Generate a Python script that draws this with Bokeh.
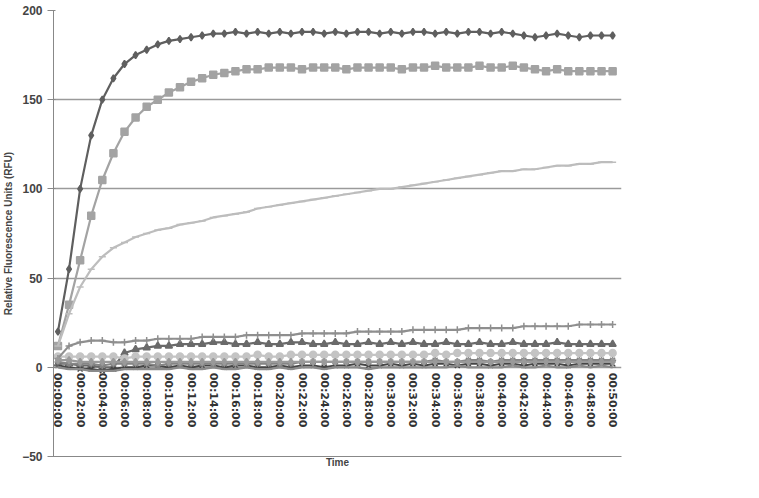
import numpy as np
from bokeh.plotting import figure
from bokeh.models import Legend, LegendItem, FixedTicker
from bokeh.core.properties import value
from bokeh.embed import file_html
from bokeh.resources import INLINE

minutes = list(range(51))
tick_minutes = list(range(0, 51, 2))
tick_labels = ["00:%02d:00" % m for m in tick_minutes]

s90 = [20, 55, 100, 130, 150, 162, 170, 175, 178, 181, 183, 184, 185, 186, 187, 187, 188, 187, 188, 187, 188, 187, 188, 188, 187, 188, 187, 188, 188, 187, 188, 187, 188, 188, 187, 188, 187, 188, 188, 187, 188, 187, 186, 185, 186, 187, 186, 185, 186, 186, 186]
s30 = [12, 35, 60, 85, 105, 120, 132, 140, 146, 150, 154, 157, 160, 162, 164, 165, 166, 167, 167, 168, 168, 168, 167, 168, 168, 168, 167, 168, 168, 168, 168, 167, 168, 168, 169, 168, 168, 168, 169, 168, 168, 169, 168, 167, 166, 167, 166, 166, 166, 166, 166]
s10 = [2, 2, 1, 1, 0, 0, 8, 10, 11, 12, 12, 13, 13, 13, 14, 14, 13, 13, 14, 13, 13, 14, 14, 13, 13, 14, 13, 13, 14, 13, 14, 13, 14, 13, 13, 14, 13, 13, 14, 13, 13, 14, 13, 13, 13, 14, 13, 13, 13, 13, 13]
s333 = [1, 0, -1, -1, -2, -1, 0, 0, 1, 1, 0, 1, 0, 1, 1, 0, 1, 1, 0, 0, 1, 0, 1, 1, 0, 1, 1, 2, 1, 1, 2, 1, 2, 1, 2, 2, 1, 2, 2, 1, 2, 2, 1, 2, 2, 2, 1, 2, 2, 2, 2]
s111 = [3, 2, 2, 2, 1, 2, 2, 2, 2, 1, 2, 2, 2, 2, 2, 2, 2, 2, 2, 2, 2, 2, 3, 3, 3, 3, 3, 3, 3, 3, 3, 3, 3, 3, 4, 3, 3, 4, 4, 3, 4, 4, 4, 4, 4, 4, 4, 4, 4, 4, 4]
s037 = [6, 6, 6, 6, 6, 6, 5, 6, 6, 6, 6, 6, 6, 6, 6, 6, 6, 6, 7, 6, 6, 7, 7, 7, 7, 7, 7, 7, 7, 7, 7, 7, 7, 7, 8, 7, 8, 8, 8, 8, 8, 8, 8, 8, 8, 8, 8, 8, 8, 8, 8]
s012 = [5, 12, 14, 15, 15, 14, 14, 15, 15, 16, 16, 16, 16, 17, 17, 17, 17, 18, 18, 18, 18, 18, 19, 19, 19, 19, 19, 20, 20, 20, 20, 20, 21, 21, 21, 21, 21, 22, 22, 22, 22, 22, 23, 23, 23, 23, 23, 24, 24, 24, 24]
s004 = [12, 30, 45, 55, 62, 67, 70, 73, 75, 77, 78, 80, 81, 82, 84, 85, 86, 87, 89, 90, 91, 92, 93, 94, 95, 96, 97, 98, 99, 100, 100, 101, 102, 103, 104, 105, 106, 107, 108, 109, 110, 110, 111, 111, 112, 113, 113, 114, 114, 115, 115]
s001 = [0, -1, -1, -2, -2, -2, -1, -1, -1, -1, -1, 0, -1, -1, 0, -1, -1, 0, -1, -1, 0, -1, 0, 0, -1, 0, 0, 0, -1, 0, 0, 0, 0, 0, 0, 0, 1, 0, 0, 0, 0, 1, 0, 0, 1, 0, 0, 1, 0, 1, 0]
s_nodrug = [4, 4, 3, 3, 3, 3, 3, 3, 3, 3, 3, 3, 3, 3, 3, 3, 3, 3, 3, 3, 3, 3, 3, 3, 3, 3, 3, 3, 3, 3, 3, 3, 3, 3, 3, 3, 3, 3, 3, 3, 3, 3, 3, 3, 3, 3, 3, 3, 3, 3, 3]

series = [
    ("90", s90, "#5f5f5f", "diamond"),
    ("30", s30, "#a3a3a3", "square"),
    ("10", s10, "#6a6a6a", "triangle"),
    ("3,33", s333, "#454545", "x"),
    ("1,11", s111, "#858585", "asterisk"),
    ("0,37", s037, "#c4c4c4", "circle"),
    ("0,12", s012, "#8f8f8f", "cross"),
    ("0,04", s004, "#bdbdbd", "dash"),
    ("0,01", s001, "#8a8a8a", "dash"),
    ("no drug", s_nodrug, "#9a9a9a", "diamond"),
]

p = figure(frame_width=568, frame_height=446, output_backend="svg", toolbar_location=None,
           x_range=(-0.4, 50.8), y_range=(-50, 200))
p.outline_line_color = None
p.min_border_left = 10
p.min_border_top = 10
p.min_border_bottom = 4

items = []
for name, vals, color, marker in series:
    r1 = p.line(minutes, vals, line_color=color, line_width=2.2)
    r2 = p.scatter(minutes, vals, marker=marker, size=7, color=color, line_width=1.5)
    items.append(LegendItem(label=name, renderers=[r1, r2]))

# time labels written downward under the zero line
p.text(x=tick_minutes, y=[-3] * len(tick_minutes), text=tick_labels, angle=-np.pi / 2,
       text_align="left", text_baseline="middle", text_font_size="11px",
       text_font_style="bold", text_color="#333333", text_font=value("DejaVu Sans"))

legend = Legend(items=items, location="center", border_line_color=None,
                label_text_font_style="bold", label_text_font_size="11px",
                spacing=8, glyph_width=34, label_text_font="DejaVu Sans")
p.add_layout(legend, "right")

p.xaxis.ticker = FixedTicker(ticks=[])
p.xaxis.major_label_text_font_size = "0px"
p.xaxis.axis_label_standoff = 0
p.yaxis.ticker = FixedTicker(ticks=[-50, 0, 50, 100, 150, 200])
p.xaxis.axis_label = "Time"
p.yaxis.axis_label = "Relative Fluorescence Units (RFU)"
for ax in (p.xaxis, p.yaxis):
    ax.major_label_text_font_style = "bold"
    ax.axis_label_text_font_style = "bold"
    ax.axis_label_text_font_size = "10px"
    ax.axis_line_color = "#888888"
    ax.major_tick_line_color = "#888888"
    ax.minor_tick_line_color = None
p.yaxis.major_label_text_font_size = "12px"
p.xgrid.grid_line_color = None
p.ygrid.grid_line_color = "#9a9a9a"
p.ygrid.grid_line_width = 1.5

open("out.html", "w").write(file_html(p, INLINE))
